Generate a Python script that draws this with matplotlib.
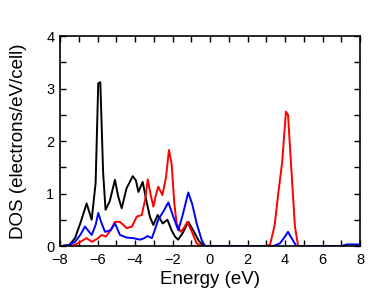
import numpy as np
import matplotlib.pyplot as plt

plt.rcParams['font.family'] = ['Liberation Sans', 'DejaVu Sans']

# points (energy in eV, DOS in electrons/eV/cell)
E_black = [-7.9, -7.5, -7.2, -6.9, -6.58, -6.31, -6.1, -5.96, -5.85, -5.7, -5.57, -5.35,
           -5.07, -4.9, -4.71, -4.45, -4.12, -3.95, -3.82, -3.59, -3.38, -3.2, -3.02,
           -2.79, -2.52, -2.27, -2.05, -1.87, -1.7, -1.45, -1.16, -0.9, -0.6, -0.36, -0.2]
dos_black = [0.0, 0.02, 0.15, 0.45, 0.81, 0.50, 1.2, 3.10, 3.12, 1.4, 0.69, 0.85,
             1.26, 0.95, 0.72, 1.1, 1.33, 1.25, 1.03, 1.22, 0.84, 0.55, 0.40,
             0.59, 0.43, 0.50, 0.30, 0.18, 0.12, 0.25, 0.46, 0.30, 0.10, 0.01, 0.0]

E_red = [-7.9, -7.3, -7.0, -6.58, -6.3, -6.0, -5.78, -5.55, -5.3, -5.07, -4.8, -4.44,
         -4.16, -3.91, -3.64, -3.45, -3.32, -3.15, -3.02, -2.9, -2.76, -2.54, -2.35,
         -2.19, -2.05, -1.9, -1.78, -1.57, -1.38, -1.21, -1.0, -0.71, -0.45, -0.2,
         2.9, 3.2, 3.45, 3.64, 3.85, 4.05, 4.16, 4.35, 4.53, 4.7, 5.0]
dos_red = [0.0, 0.01, 0.06, 0.15, 0.08, 0.14, 0.21, 0.18, 0.30, 0.46, 0.46, 0.34,
           0.37, 0.56, 0.59, 0.90, 1.27, 0.95, 0.75, 0.95, 1.13, 0.97, 1.3,
           1.83, 1.57, 0.80, 0.43, 0.27, 0.35, 0.46, 0.30, 0.05, 0.0, 0.0,
           0.0, 0.02, 0.4, 1.0, 1.6, 2.56, 2.50, 1.4, 0.37, 0.0, 0.0]

E_blue = [-7.9, -7.5, -7.2, -6.9, -6.67, -6.31, -6.1, -5.96, -5.8, -5.6, -5.3, -5.07,
          -4.8, -4.44, -4.1, -3.73, -3.5, -3.34, -3.1, -2.95, -2.76, -2.5, -2.22,
          -1.96, -1.69, -1.45, -1.16, -0.95, -0.71, -0.45, -0.27, 0.0,
          3.4, 3.73, 4.0, 4.16, 4.35, 4.6, 7.0, 7.3, 8.0]
dos_blue = [0.0, 0.02, 0.08, 0.22, 0.37, 0.21, 0.40, 0.63, 0.45, 0.27, 0.30, 0.43,
            0.21, 0.16, 0.15, 0.12, 0.15, 0.19, 0.15, 0.30, 0.50, 0.65, 0.83,
            0.56, 0.30, 0.60, 1.02, 0.80, 0.43, 0.12, 0.0, 0.0,
            0.0, 0.05, 0.18, 0.27, 0.15, 0.0, 0.0, 0.03, 0.03]

fig = plt.figure(figsize=(3.88, 3.0), dpi=100)
ax = fig.add_axes([60 / 388, 54 / 300, 300 / 388, 210 / 300])

ax.plot(E_black, dos_black, color='black', lw=1.4)
ax.plot(E_red, dos_red, color='red', lw=1.4)
ax.plot(E_blue, dos_blue, color='blue', lw=1.4)

ax.set_xlim(-8, 8)
ax.set_ylim(0, 4)
ax.set_xticks(np.arange(-8, 9, 2))
ax.set_xticks(np.arange(-8, 9, 1), minor=True)
ax.set_yticks(np.arange(0, 5, 1))
ax.set_yticks(np.arange(0, 4.1, 0.5), minor=True)
ax.tick_params(which='both', direction='in', top=True, right=True, labelsize=10.5, width=1.0)
ax.tick_params(which='major', length=4)
ax.tick_params(which='minor', length=4)
ax.tick_params(axis='x', pad=5)
ax.tick_params(axis='y', pad=4)
for s in ax.spines.values():
    s.set_linewidth(1.2)

ax.set_xlabel('Energy (eV)', fontsize=13.5, labelpad=3)
ax.set_ylabel('DOS (electrons/eV/cell)', fontsize=13.5, labelpad=14)

fig.savefig('out.png', dpi=100)
